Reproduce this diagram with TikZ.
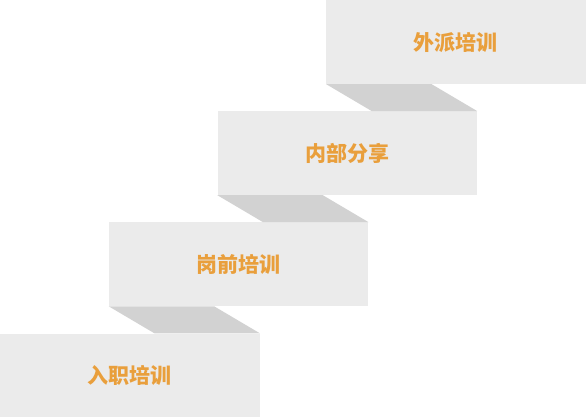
\documentclass[tikz,border=0pt]{standalone}
\usepackage{fontspec}
\newfontfamily\cjk{Noto Sans CJK SC}
\usepackage{tikz}
\usetikzlibrary{calc,positioning}
\definecolor{kastenGrau}{HTML}{EBEBEB}
\definecolor{schattenGrau}{HTML}{D2D2D2}
\definecolor{schriftOrange}{HTML}{E99F3C}
\tikzset{
  stepbox/.style={fill=kastenGrau,draw=none,inner sep=0pt,anchor=north west,
    minimum width=259.5pt,minimum height=83.7pt,
    text=schriftOrange,font=\cjk\bfseries\fontsize{21}{21}\selectfont},
  schatten/.style={fill=schattenGrau,draw=none}
}

\begin{document}
\begin{tikzpicture}[x=1pt,y=-1pt]
%Pixelmasse aus der Vorlage: Versatz der Stufen und Schattenbreite
  \pgfmathsetmacro{\dx}{108.67}
  \pgfmathsetmacro{\dy}{111.1}
  \pgfmathsetmacro{\sb}{105.5}
\useasboundingbox (0,0) rectangle (586,417);
\foreach \i/\txt in {0/入职培训,1/岗前培训,2/内部分享,3/外派培训}{
\node[stepbox] (stufe\i) at (\i*\dx,333.3-\i*\dy) {\txt};
}
%Schatten zwischen zwei Stufen
\foreach \i/\j in {1/0,2/1,3/2}{
\fill[schatten] (stufe\i.south west) -- ++(\sb,0) -- (stufe\j.north east) -- ++(-\sb,0) -- cycle;
}
\end{tikzpicture}
\end{document}
